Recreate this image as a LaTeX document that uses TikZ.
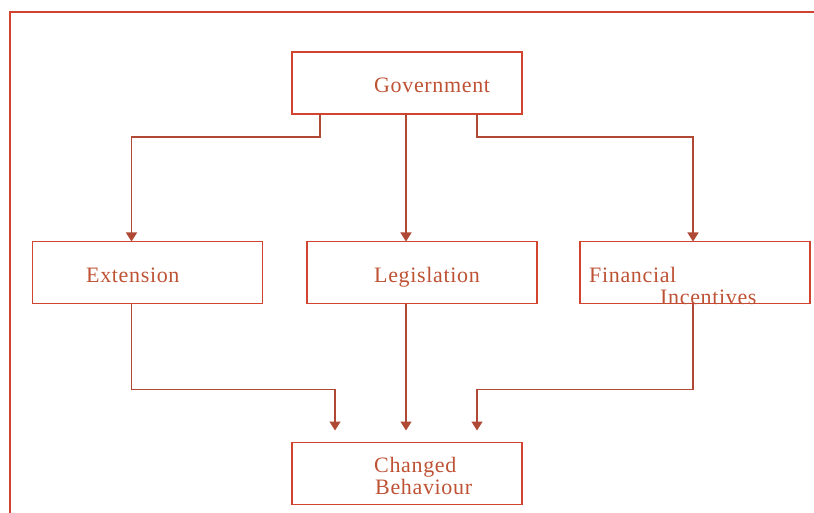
\documentclass[tikz,border=0pt]{standalone}
\usepackage{fontspec}
\setmainfont{Liberation Serif}
\usetikzlibrary{arrows.meta,calc}
\definecolor{boxred}{RGB}{208,68,48}
\definecolor{txtred}{RGB}{190,82,52}
\definecolor{linered}{RGB}{175,72,52}
\begin{document}
\begin{tikzpicture}[x=1pt,y=-1pt,
  box/.style={draw=boxred,line width=1.5pt,minimum width=230pt,minimum height=62pt,inner sep=0pt,outer sep=0pt},
  lbl/.style={text=txtred,font=\fontsize{22}{23}\selectfont\addfontfeature{LetterSpace=3},anchor=base west,inner sep=0pt},
  conn/.style={draw=linered,line width=1.3pt,-{Triangle[length=9pt,width=11pt]}},
  frame/.style={draw=boxred,line width=1.4pt}]
\useasboundingbox (0,0) rectangle (814,513);
\coordinate (ftl) at (10,12);
\coordinate (ftr) at (814,12);
\coordinate (fbl) at (10,513);
\draw[frame] (ftr) -- (ftl) -- (fbl);
% boxes
\node[box] (gov) at (407,83) {};
\node[box] (ext) at (147.5,272.5) {};
\node[box] (leg) at (422,272.5) {};
\node[box] (fin) at (695,272.5) {};
\node[box] (cb) at (407,473.5) {};
% labels
\node[lbl] (tgov) at (374,93) {Government};
\node[lbl] (text) at (86,283) {Extension};
\node[lbl] (tleg) at (374,283) {Legislation};
\node[lbl] (tfin1) at (589,283) {Financial};
\node[lbl] (tfin2) at (660,304) {Incentives};
\node[lbl] (tcb1) at (374,472) {Changed};
\node[lbl] (tcb2) at (375,494) {Behaviour};
% connectors from government
\draw[conn] ([xshift=28pt]gov.south west) -- ++(0,23) -| ([xshift=99pt]ext.north west);
\draw[conn] ([xshift=114pt]gov.south west) -- ([xshift=99pt]leg.north west);
\draw[conn] ([xshift=185pt]gov.south west) -- ++(0,23) -| ([xshift=113pt]fin.north west);
% connectors to changed behaviour
\draw[conn,shorten >=12pt] ([xshift=99pt]ext.south west) -- ++(0,86) -| ([xshift=43pt]cb.north west);
\draw[conn,shorten >=12pt] ([xshift=99pt]leg.south west) -- ([xshift=114pt]cb.north west);
\draw[conn,shorten >=12pt] ([xshift=113pt]fin.south west) -- ++(0,86) -| ([xshift=185pt]cb.north west);
\end{tikzpicture}
\end{document}
